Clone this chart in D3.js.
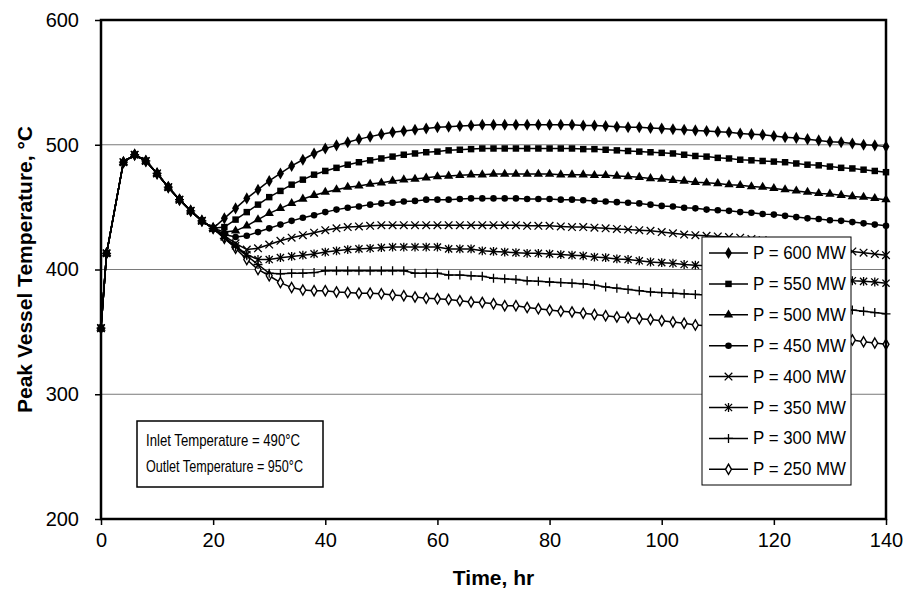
<!DOCTYPE html>
<html>
<head>
<meta charset="utf-8">
<script src="https://cdn.jsdelivr.net/npm/d3@7"></script>
<style>
  body { margin: 0; background: #fff; }
  text { font-family: "Liberation Sans", Arial, sans-serif; }
</style>
</head>
<body>
<div class="graph"></div>
<script>
// time axis (hr)
const times = [0, 1, 4, 6, 8, 10, 12, 14, 16, 18, 20,
  22, 24, 26, 28, 30, 32, 34, 36, 38, 40,
  42, 44, 46, 48, 50, 52, 54, 56, 58, 60,
  62, 64, 66, 68, 70, 72, 74, 76, 78, 80,
  82, 84, 86, 88, 90, 92, 94, 96, 98, 100,
  102, 104, 106, 108, 110, 112, 114, 116, 118, 120,
  122, 124, 126, 128, 130, 132, 134, 136, 138, 140];

// first 20 hr are the same for every power level
const startup = [353, 413, 486, 492, 487, 477, 466, 456, 447, 439, 433];

const p600 = startup.concat([441, 449, 457, 464, 471, 477, 483, 488, 493, 497,
  499.5, 502, 504.5, 506.5, 508.5, 510, 511, 512, 513, 514,
  514.5, 515, 515.5, 516, 516, 516, 516, 516, 516, 516,
  516, 516, 515.5, 515.5, 515, 514.5, 514, 514, 513.5, 513,
  512.5, 512, 511.5, 511, 510.5, 510, 509, 508.5, 508, 507,
  506, 505.5, 504.5, 503.5, 502.5, 502, 501, 500, 499.5, 498.5]);

const p550 = startup.concat([434, 440, 446, 452, 458, 463, 468, 472, 476, 479,
  481.5, 484, 486, 487.5, 489, 490.5, 492, 493, 494, 494.5,
  495.5, 496, 496.5, 497, 497, 497, 497, 497, 497, 497,
  497, 497, 496.5, 496.5, 496, 495.5, 495, 494.5, 494, 493.5,
  493, 492, 491, 490.5, 489.5, 489, 488, 487.5, 487, 486.5,
  486, 485, 484, 483.5, 482.5, 481.5, 481, 480, 479, 478]);

const p500 = startup.concat([430, 431, 435, 440, 445, 449, 453, 456.5, 459.5, 462,
  464, 466, 467, 468.5, 469.5, 471, 472, 472.5, 473.5, 474.5,
  475, 475.5, 476, 476, 476.5, 476.5, 476.5, 476.5, 476.5, 476.5,
  476, 476, 476, 475.5, 475.5, 475, 474.5, 474, 473, 472.5,
  471.5, 471, 470, 469.5, 469, 468, 467.5, 466.5, 466, 465,
  464, 463, 462, 461, 460.5, 459.5, 458.5, 458, 457, 456]);

const p450 = startup.concat([428, 426, 427, 430, 433, 436, 439, 441.5, 443.5, 446,
  448, 449.5, 450.5, 452, 453, 453.5, 454.5, 455, 456, 456,
  456, 456.5, 457, 457, 457, 457, 457, 456.5, 456.5, 456.5,
  456, 456, 455.5, 455, 454.5, 454, 453.5, 453, 452, 451,
  450.5, 449.5, 449, 448, 447.5, 447, 446, 445.5, 444.5, 444,
  443, 442, 441, 440.5, 439.5, 439, 438, 437, 436, 435]);

const p400 = startup.concat([427, 421, 416, 417, 420, 423, 425.5, 427.5, 429.5, 431.5,
  433, 434, 434.5, 435, 435.5, 435.5, 435.5, 435.5, 435.5, 435.5,
  435.5, 435.5, 435.5, 435.5, 435.5, 435.5, 435.5, 435, 435, 435,
  434.5, 434, 434, 433.5, 433, 432.5, 432, 431.5, 431, 430,
  429, 428, 427.5, 427, 426.5, 426, 425.5, 424.5, 423.5, 422.5,
  421.5, 420.5, 419.5, 418.5, 417, 416, 414.5, 413.5, 412.5, 411.5]);

const p350 = startup.concat([426, 419, 412, 408, 408, 409.5, 410.5, 411.5, 412.5, 414,
  415, 416, 416.5, 417, 417.5, 418, 418, 418, 418, 418,
  416.5, 416.5, 416.5, 415, 414.5, 414, 413.5, 413, 413, 412.5,
  412, 411.5, 411, 410, 409.5, 408.5, 408, 407, 406, 405.5,
  405, 404, 403.5, 403, 402, 401, 400.5, 399.5, 399, 398,
  397, 396, 395, 394, 393, 392, 391, 390.5, 390, 389]);

const p300 = startup.concat([425, 418, 411, 404, 397, 396.5, 397, 397, 397.5, 399,
  399, 399, 399, 399, 399, 399, 399, 397, 397, 397,
  395.5, 395.5, 395, 394.5, 393, 392.5, 392, 391, 390.5, 390,
  389.5, 389, 388.5, 387.5, 386, 385, 384, 383, 382, 381.5,
  381, 380.5, 380, 379.5, 379, 378, 377, 376, 375, 374,
  373, 372, 371, 370, 369, 368, 367.5, 366.5, 365.5, 364.5]);

const p250 = startup.concat([425, 417, 408, 400, 395, 389.5, 385.5, 383.5, 383, 383,
  382, 381.5, 381, 381, 380.5, 379.5, 379, 378, 377, 376.5,
  376, 375, 374, 373.5, 372.5, 371, 371, 369.5, 368.5, 367.5,
  366.5, 366, 365, 364, 363, 362, 361.5, 360.5, 360, 359,
  358, 357, 355.5, 355, 354, 353, 352, 351.5, 350.5, 349.5,
  349, 348, 347, 346.5, 345.5, 344.5, 343.5, 342, 341, 340]);

const seriesNames = ["P = 600 MW", "P = 550 MW", "P = 500 MW", "P = 450 MW",
  "P = 400 MW", "P = 350 MW", "P = 300 MW", "P = 250 MW"];
const seriesValues = [p600, p550, p500, p450, p400, p350, p300, p250];
const markerKinds = ["diamond", "square", "triangle", "circle", "x", "asterisk", "plus", "odiamond"];

const xTicks = [0, 20, 40, 60, 80, 100, 120, 140];
const yTicks = [200, 300, 400, 500, 600];
const gridValues = [300, 400, 500];
const noteLines = ["Inlet Temperature = 490°C", "Outlet Temperature = 950°C"];

const W = 907, H = 600;
const margin = { top: 20, right: 21, bottom: 81, left: 101 };

const svg = d3.select(".graph").append("svg")
  .attr("width", W)
  .attr("height", H);

const x = d3.scaleLinear().domain([0, 140]).range([margin.left, W - margin.right]);
const y = d3.scaleLinear().domain([200, 600]).range([H - margin.bottom, margin.top]);

// grid
svg.append("g")
  .selectAll("line")
  .data(gridValues)
  .enter().append("line")
  .attr("x1", x(0)).attr("x2", x(140))
  .attr("y1", d => y(d)).attr("y2", d => y(d))
  .attr("stroke", "#7a7a7a")
  .attr("stroke-width", 1);

// axes
const xAxis = svg.append("g")
  .attr("transform", "translate(0," + y(200) + ")")
  .call(d3.axisBottom(x).tickValues(xTicks).tickSize(6).tickSizeOuter(0).tickPadding(8));
const yAxis = svg.append("g")
  .attr("transform", "translate(" + x(0) + ",0)")
  .call(d3.axisLeft(y).tickValues(yTicks).tickSize(6).tickSizeOuter(0).tickPadding(16));
[xAxis, yAxis].forEach(a => {
  a.select(".domain").remove();
  a.selectAll("line").attr("stroke", "#000").attr("stroke-width", 1.5);
  a.selectAll("text").attr("fill", "#000").style("font-size", "20px")
    .style("font-family", "'Liberation Sans', Arial, sans-serif");
});

// marker shapes
function marker(g, kind) {
  if (kind === "diamond") {
    g.append("path").attr("d", d3.symbol(d3.symbolDiamond, 42)()).attr("fill", "#000");
  } else if (kind === "square") {
    g.append("path").attr("d", d3.symbol(d3.symbolSquare, 42)()).attr("fill", "#000");
  } else if (kind === "triangle") {
    g.append("path").attr("d", d3.symbol(d3.symbolTriangle, 38)()).attr("fill", "#000");
  } else if (kind === "circle") {
    g.append("circle").attr("r", 3.3).attr("fill", "#000");
  } else if (kind === "x") {
    const r = 3.8;
    g.append("path").attr("d", `M${-r},${-r}L${r},${r}M${-r},${r}L${r},${-r}`)
      .attr("stroke", "#000").attr("stroke-width", 1.3);
  } else if (kind === "asterisk") {
    const r = 3.6;
    g.append("path").attr("d", `M${-r},${-r}L${r},${r}M${-r},${r}L${r},${-r}M0,${-r - 0.8}L0,${r + 0.8}`)
      .attr("stroke", "#000").attr("stroke-width", 1.3);
  } else if (kind === "plus") {
    const r = 4.5;
    g.append("path").attr("d", `M${-r},0L${r},0M0,${-r}L0,${r}`)
      .attr("stroke", "#000").attr("stroke-width", 1.3);
  } else if (kind === "odiamond") {
    g.append("path").attr("d", d3.symbol(d3.symbolDiamond, 30)())
      .attr("fill", "#fff").attr("stroke", "#000").attr("stroke-width", 1.4);
  }
}

const line = d3.line()
  .x((d, i) => x(times[i]))
  .y(d => y(d));

// draw from lowest power up so the 600/550 markers sit on top
for (let s = seriesValues.length - 1; s >= 0; s--) {
  const g = svg.append("g");
  g.append("path")
    .datum(seriesValues[s])
    .attr("fill", "none")
    .attr("stroke", "#000")
    .attr("stroke-width", 1.5)
    .attr("d", line);
  g.selectAll(".pt")
    .data(seriesValues[s])
    .enter().append("g")
    .attr("transform", (d, i) => "translate(" + x(times[i]) + "," + y(d) + ")")
    .each(function () { marker(d3.select(this), markerKinds[s]); });
}

// plot frame
svg.append("rect")
  .attr("x", x(0)).attr("y", y(600))
  .attr("width", x(140) - x(0)).attr("height", y(200) - y(600))
  .attr("fill", "none").attr("stroke", "#000").attr("stroke-width", 2.5);

// note box
const note = svg.append("g").attr("transform", "translate(137,421)");
note.append("rect")
  .attr("width", 186).attr("height", 66)
  .attr("fill", "#fff").attr("stroke", "#000").attr("stroke-width", 1.5);
note.selectAll("text")
  .data(noteLines)
  .enter().append("text")
  .attr("x", 9).attr("y", (d, i) => 25 + i * 26)
  .attr("textLength", (d, i) => i === 0 ? 154 : 157)
  .attr("lengthAdjust", "spacingAndGlyphs")
  .style("font-size", "17px")
  .text(d => d);

// legend
const legend = svg.append("g").attr("transform", "translate(702,237)");
legend.append("rect")
  .attr("width", 149).attr("height", 248)
  .attr("fill", "#fff").attr("stroke", "#000").attr("stroke-width", 1);
seriesNames.forEach((name, i) => {
  const row = legend.append("g").attr("transform", "translate(0," + (16 + i * 30.9) + ")");
  row.append("line").attr("x1", 7).attr("x2", 46).attr("stroke", "#000").attr("stroke-width", 1.5);
  marker(row.append("g").attr("transform", "translate(26.5,0)"), markerKinds[i]);
  row.append("text").attr("x", 51).attr("y", 6)
    .attr("textLength", 93).attr("lengthAdjust", "spacingAndGlyphs")
    .style("font-size", "18px").text(name);
});

// axis titles
svg.append("text")
  .attr("x", x(70)).attr("y", 585)
  .attr("text-anchor", "middle")
  .style("font-size", "21px").style("font-weight", "bold")
  .text("Time, hr");
svg.append("text")
  .attr("transform", "translate(32," + y(400) + ") rotate(-90)")
  .attr("text-anchor", "middle")
  .style("font-size", "21px").style("font-weight", "bold")
  .text("Peak Vessel Temperature, °C");
</script>
</body>
</html>
